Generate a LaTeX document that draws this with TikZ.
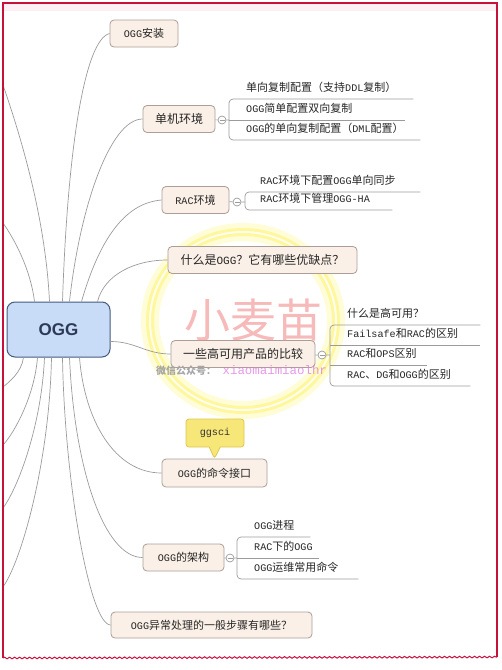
\documentclass[tikz,border=0pt]{standalone}
\usepackage{fontspec}
\setmainfont{Noto Sans CJK SC}
\newfontfamily\lat[Scale=0.92]{Liberation Mono}
\newfontfamily\headfont{Liberation Sans}
\usetikzlibrary{shapes.callouts, decorations.pathmorphing, calc}
\definecolor{topicfill}{RGB}{251,240,231}
\definecolor{topicline}{RGB}{170,158,150}
\definecolor{linkgray}{RGB}{155,155,155}
\definecolor{rootfill}{RGB}{200,220,248}
\definecolor{rootline}{RGB}{70,90,125}
\definecolor{roottext}{RGB}{45,58,85}
\definecolor{frame}{RGB}{200,16,60}
\definecolor{band}{RGB}{253,240,244}
\definecolor{glow}{RGB}{255,242,100}
\definecolor{callfill}{RGB}{247,230,120}
\definecolor{callline}{RGB}{222,198,80}
\definecolor{wmpink}{RGB}{240,140,140}
\definecolor{wmgray}{RGB}{165,165,165}
\definecolor{wmmag}{RGB}{225,125,225}
\tikzset{
  topic/.style={rounded corners=4pt, fill=topicfill, draw=topicline, line width=0.8pt,
    minimum height=27pt, inner sep=2pt, text=black!85, font=\fontsize{11}{13}\selectfont},
  bigtopic/.style={topic, font=\fontsize{12}{14}\selectfont},
  subitem/.style={anchor=south west, inner xsep=0pt, inner ysep=5pt, text depth=2.5pt,
    text width=#1, align=left, text=black!85, font=\fontsize{11}{13}\selectfont},
  link/.style={draw=linkgray, line width=0.7pt},
  fold/.style={circle, draw=linkgray, fill=white, line width=0.7pt, inner sep=0pt, minimum size=8pt,
    path picture={\draw[linkgray, line width=0.6pt] ([xshift=1.5pt]path picture bounding box.west)
      -- ([xshift=-1.5pt]path picture bounding box.east);}},
}
\begin{document}
\begin{tikzpicture}[x=1pt, y=-1pt]
\useasboundingbox (0,0) rectangle (502,670);
\fill[band] (4,4) rectangle (496,11);

% glow behind the watermark
\draw[glow, line width=18pt, opacity=0.25] (243,321) ellipse [x radius=93pt, y radius=89pt];
\draw[glow, line width=8pt, opacity=0.5] (243,321) ellipse [x radius=93pt, y radius=89pt];
\draw[white, line width=2pt, opacity=0.8] (243,321) ellipse [x radius=93pt, y radius=89pt];

% central topic
\node[rounded corners=8pt, fill=rootfill, draw=rootline, line width=1pt,
      minimum width=103pt, minimum height=55pt, text=roottext,
      font=\headfont\bfseries\fontsize{17}{20}\selectfont] (ogg) at (58.5,329.5) {OGG};

% main topics
\node[topic, minimum width=68pt] (ins) at (144,33.5) {{\lat OGG}安装};
\node[bigtopic, minimum width=72pt] (single) at (179,119) {单机环境};
\node[topic, minimum width=67pt] (rac) at (195.5,200) {{\lat RAC}环境};
\node[bigtopic, minimum width=189pt] (what) at (262.5,260) {什么是{\lat OGG}？它有哪些优缺点？};
\node[bigtopic, minimum width=144pt] (ha) at (243,354) {一些高可用产品的比较};
\node[topic, minimum width=105pt, minimum height=28pt] (cmd) at (214.5,473) {{\lat OGG}的命令接口};
\node[topic, minimum width=81pt] (arch) at (183.5,557.5) {{\lat OGG}的架构};
\node[topic, minimum width=201pt, minimum height=26pt] (err) at (211.5,625) {{\lat OGG}异常处理的一般步骤有哪些？};

\node[rectangle callout, callout absolute pointer={(cmd.north)}, callout pointer width=11pt,
      fill=callfill, draw=callline, line width=0.8pt, rounded corners=3pt,
      minimum width=58pt, minimum height=28pt, text=black!80,
      font=\lat\fontsize{11}{13}\selectfont] (ggsci) at (215,433) {ggsci};

% fold markers
\node[fold] (c1) at (222,120) {};
\node[fold] (c2) at (237,202) {};
\node[fold] (c3) at (322,355) {};
\node[fold] (c4) at (230,558) {};

% sub topics
\node[subitem=184pt] (s11) at (229,99) {\hspace*{17pt}单向复制配置（支持{\lat DDL}复制）};
\node[subitem=176pt] (s12) at (229,120) {\hspace*{17pt}{\lat OGG}简单配置双向复制};
\node[subitem=191pt] (s13) at (229,140) {\hspace*{17pt}{\lat OGG}的单向复制配置（{\lat DML}配置）};

\node[subitem=175pt] (s21) at (245,192) {\hspace*{15pt}{\lat RAC}环境下配置{\lat OGG}单向同步};
\node[subitem=147pt] (s22) at (245,210) {\hspace*{15pt}{\lat RAC}环境下管理{\lat OGG-HA}};

\node[subitem=150pt] (s31) at (330,325) {\hspace*{17pt}什么是高可用？};
\node[subitem=150pt] (s32) at (330,345) {\hspace*{17pt}{\lat Failsafe}和{\lat RAC}的区别};
\node[subitem=97pt] (s33) at (330,365) {\hspace*{17pt}{\lat RAC}和{\lat OPS}区别};
\node[subitem=140pt] (s34) at (330,386) {\hspace*{17pt}{\lat RAC}、{\lat DG}和{\lat OGG}的区别};

\node[subitem=73pt] (s41) at (237,537) {\hspace*{17pt}{\lat OGG}进程};
\node[subitem=82pt] (s42) at (237,558) {\hspace*{17pt}{\lat RAC}下的{\lat OGG}};
\node[subitem=121pt] (s43) at (237,579) {\hspace*{17pt}{\lat OGG}运维常用命令};

% branches leaving the screen on the left
\coordinate (out1) at (3,85);
\coordinate (out2) at (3,223);
\coordinate (out3) at (3,387);
\coordinate (out4) at (3,445);
\coordinate (out5) at (3,508);
\coordinate (out6) at (3,587);
\draw[link] ([xshift=43pt]ogg.north west) .. controls +(-4,-82) and +(19,55) .. (out1);
\draw[link] ([xshift=28pt]ogg.north west) .. controls +(-4,-32) and +(12,17) .. (out2);
\draw[link] ([xshift=17pt]ogg.south west) .. controls +(-2,15) and +(6,-5) .. (out3);
\draw[link] ([xshift=31pt]ogg.south west) .. controls +(-3,38) and +(12,-13) .. (out4);
\draw[link] ([xshift=38pt]ogg.south west) .. controls +(-3,68) and +(15,-20) .. (out5);
\draw[link] ([xshift=45pt]ogg.south west) .. controls +(-2,103) and +(19,-27) .. (out6);

% branches to main topics
\draw[link] ([xshift=56pt]ogg.north west) .. controls +(5,-152) and +(-25,6) .. (ins.west);
\draw[link] ([xshift=63pt]ogg.north west) .. controls +(10,-92) and +(-33,0) .. (single.west);
\draw[link] ([xshift=75pt]ogg.north west) .. controls +(18,-62) and +(-37,3) .. (rac.west);
\draw[link] ([xshift=91pt]ogg.north west) .. controls +(7,-27) and +(-33,0) .. (what.west);
\draw[link] ([yshift=-12pt]ogg.east) .. controls +(25,0) and +(-25,0) .. (ha.west);
\draw[link] ([xshift=73pt]ogg.south west) .. controls +(5,63) and +(-47,0) .. (cmd.west);
\draw[link] ([xshift=63pt]ogg.south west) .. controls +(5,113) and +(-38,0) .. (arch.west);
\draw[link] ([xshift=56pt]ogg.south west) .. controls +(2,123) and +(-21,0) .. (err.west);

% brackets
\draw[link] (single) -- (c1) -- (c1 -| s12.south west);
\draw[link, rounded corners=4pt] (s11.south east) -- (s11.south west) -- (s13.south west) -- (s13.south east);
\draw[link] (s12.south west) -- (s12.south east);

\draw[link] (rac) -- (c2) -- (c2 -| s21.south west);
\draw[link, rounded corners=4pt] (s21.south east) -- (s21.south west) -- (s22.south west) -- (s22.south east);

\draw[link] (ha) -- (c3) -- (c3 -| s31.south west);
\draw[link, rounded corners=4pt] (s31.south east) -- (s31.south west) -- (s34.south west) -- (s34.south east);
\draw[link] (s32.south west) -- (s32.south east);
\draw[link] (s33.south west) -- (s33.south east);

\draw[link] (arch) -- (c4) -- (c4 -| s42.south west);
\draw[link, rounded corners=4pt] (s41.south east) -- (s41.south west) -- (s43.south west) -- (s43.south east);
\draw[link] (s42.south west) -- (s42.south east);

% watermark
\node[font=\fontsize{46}{50}\selectfont, text=wmpink, opacity=0.6] (wm) at (253,320) {小麦苗};
\node[anchor=base west, inner sep=0pt, font=\bfseries\fontsize{10}{12}\selectfont, text=wmgray] (wx) at (156,374) {微信公众号：};
\node[anchor=base west, inner sep=0pt, font=\lat\fontsize{13.5}{15}\selectfont, text=wmmag, opacity=0.8] (wid) at ([xshift=6pt]wx.base east) {xiaomaimiaolhr};

% screen frame
\draw[frame, line width=1.3pt] (3,658) -- (3,3) -- (497,3) -- (497,657);
\draw[frame, line width=1pt, decorate, decoration={snake, amplitude=0.8pt, segment length=5pt}] (3,658) -- (497,657);
\end{tikzpicture}
\end{document}
